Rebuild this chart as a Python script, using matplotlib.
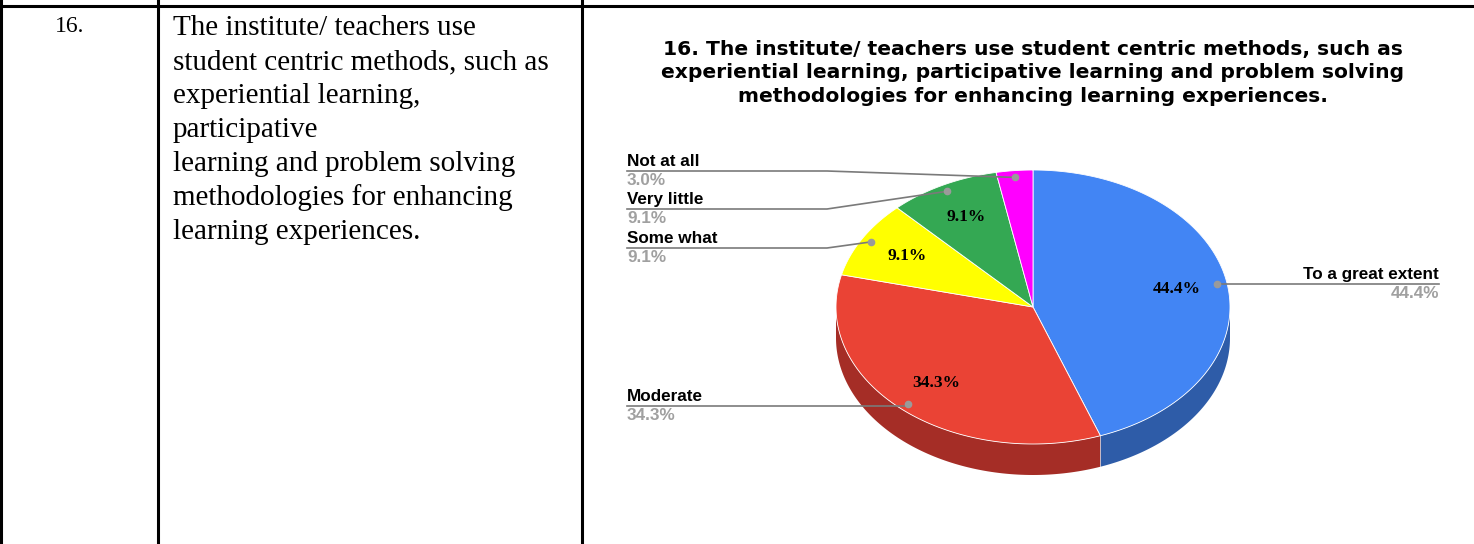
import numpy as np
import matplotlib
matplotlib.use("Agg")
import matplotlib.pyplot as plt
from matplotlib.patches import Polygon

# chart data (Google-Sheets style 3D pie, clockwise from 12 o'clock)
categories = ["To a great extent", "Moderate", "Some what", "Very little", "Not at all"]
percents = [44.4, 34.3, 9.1, 9.1, 3.0]
top_colors = ["#4285F4", "#EA4335", "#FFFF00", "#34A853", "#FF00FF"]
side_colors = ["#2E5CA8", "#A52D26", "#B3B300", "#247539", "#B300B3"]

row_number = "16."
question_lines = ["The institute/ teachers use", "student centric methods, such as",
                  "experiential learning,", "participative",
                  "learning and problem solving", "methodologies for enhancing",
                  "learning experiences."]
chart_title = ("16. The institute/ teachers use student centric methods, such as\n"
               "experiential learning, participative learning and problem solving\n"
               "methodologies for enhancing learning experiences.")

W, H = 1474, 544
fig = plt.figure(figsize=(W / 100, H / 100), dpi=100)
ax = fig.add_axes([0, 0, 1, 1])
ax.set_xlim(0, W)
ax.set_ylim(H, 0)
ax.axis("off")

# --- table borders ---
lw = 2.2
ax.plot([0, W], [6, 6], color="black", lw=lw)
for xv in [1, 158, 582]:
    ax.plot([xv, xv], [0, H], color="black", lw=lw)

ax.text(70, 26, row_number, fontsize=17, family="Liberation Serif", ha="center", va="center")
for i, line in enumerate(question_lines):
    ax.text(173, 28 + i * 34, line, fontsize=21, family="Liberation Serif",
            ha="left", va="center")

# --- title ---
ax.text(1033, 73, chart_title, fontsize=14.6, fontweight="bold", family="DejaVu Sans",
        ha="center", va="center", linespacing=1.32)

# --- 3D pie ---
cx, cy, rx, ry, depth = 1033, 307, 197, 137, 31
vals = np.array(percents) / sum(percents)
bounds = np.concatenate([[0], np.cumsum(vals)]) * 2 * np.pi


def ell(theta, r=1.0, dy=0.0):
    return cx + rx * r * np.sin(theta), cy - ry * r * np.cos(theta) + dy


# side walls (only front half, pi/2 .. 3pi/2 visible)
for i in range(len(vals)):
    a0, a1 = max(bounds[i], np.pi / 2), min(bounds[i + 1], 3 * np.pi / 2)
    if a1 <= a0:
        continue
    t = np.linspace(a0, a1, 100)
    xt, yt = ell(t)
    xb, yb = ell(t[::-1], dy=depth)
    pts = np.column_stack([np.concatenate([xt, xb]), np.concatenate([yt, yb])])
    ax.add_patch(Polygon(pts, closed=True, facecolor=side_colors[i], edgecolor="none"))
    ax.plot([xt[0], xt[0]], [yt[0], yt[0] + depth], color="white", lw=0.6, alpha=0.6)

# top faces
for i in range(len(vals)):
    t = np.linspace(bounds[i], bounds[i + 1], 200)
    xs, ys = ell(t)
    pts = np.column_stack([np.concatenate([[cx], xs]), np.concatenate([[cy], ys])])
    ax.add_patch(Polygon(pts, closed=True, facecolor=top_colors[i], edgecolor="white", lw=0.6))

mids = (bounds[:-1] + bounds[1:]) / 2

# inner percentage labels (skip tiny slice)
for i, m in enumerate(mids):
    if vals[i] < 0.05:
        continue
    x, y = ell(m, 0.74)
    ax.text(x, y, f"{percents[i]:.1f}%", fontsize=12.5, fontweight="bold",
            family="Liberation Serif", ha="center", va="center", color="black")

# --- leader lines and outside labels ---
line_c, dot_c, pct_c = "#7A7A7A", "#9A9A9A", "#A0A0A0"
left_x, elbow_x = 627, 827
left_rows = {"Not at all": 171, "Very little": 209, "Some what": 248, "Moderate": 406}
lab_fs = 12.3
for i, name in enumerate(categories):
    dx, dy = ell(mids[i], 0.95)
    if name in left_rows:
        ly = left_rows[name]
        if abs(dy - ly) < 3:
            ax.plot([left_x, dx], [ly, ly], color=line_c, lw=1.2)
        else:
            ax.plot([left_x, elbow_x, dx], [ly, ly, dy], color=line_c, lw=1.2)
        ax.text(left_x, ly - 2, name, fontsize=lab_fs, fontweight="bold",
                family="Liberation Sans", ha="left", va="bottom")
        ax.text(left_x, ly + 2, f"{percents[i]:.1f}%", fontsize=lab_fs, fontweight="bold",
                family="Liberation Sans", ha="left", va="top", color=pct_c)
    else:
        right_x = 1439
        ax.plot([dx, right_x], [dy, dy], color=line_c, lw=1.2)
        ax.text(right_x, dy - 2, name, fontsize=lab_fs, fontweight="bold",
                family="Liberation Sans", ha="right", va="bottom")
        ax.text(right_x, dy + 2, f"{percents[i]:.1f}%", fontsize=lab_fs, fontweight="bold",
                family="Liberation Sans", ha="right", va="top", color=pct_c)
    ax.plot(dx, dy, "o", color=dot_c, ms=4.5, zorder=5)

fig.savefig("out.png", dpi=100)
